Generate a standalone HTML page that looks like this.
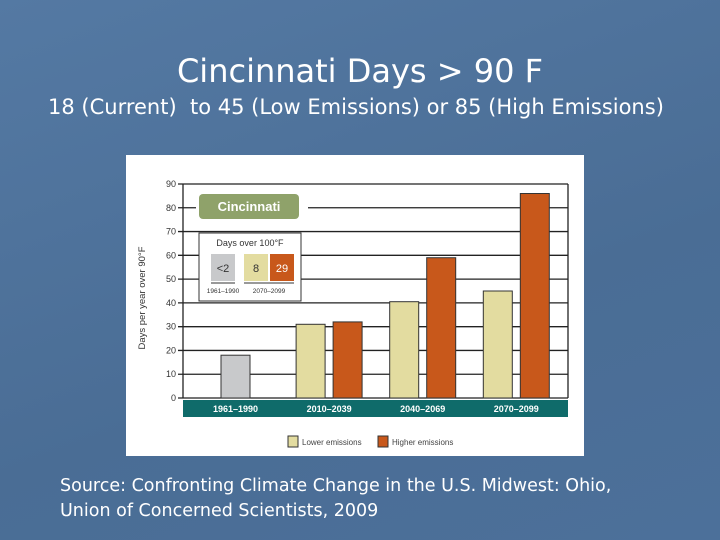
<!DOCTYPE html>
<html><head><meta charset="utf-8"><style>
body{margin:0;width:720px;height:540px;overflow:hidden;background:linear-gradient(160deg,#5479a3,#4a6d95 60%,#4c709a);font-family:"DejaVu Sans","Liberation Sans",sans-serif;position:relative}
.t{position:absolute;color:#fff;white-space:nowrap}
</style></head><body>
<div class="t" style="left:0;width:720px;text-align:center;top:52px;font-size:32px">Cincinnati Days &gt; 90 F</div>
<div class="t" style="left:48px;top:95px;font-size:21px">18 (Current)&nbsp; to 45 (Low Emissions) or 85 (High Emissions)</div>
<div class="t" style="left:60px;top:474px;font-size:17.5px;line-height:25px">Source: Confronting Climate Change in the U.S. Midwest: Ohio,<br>Union of Concerned Scientists, 2009</div>
<svg id="c" width="720" height="540" style="position:absolute;left:0;top:0" font-family="Liberation Sans, sans-serif"></svg>
<script>
const periods=["1961–1990","2010–2039","2040–2069","2070–2099"];
const lowerVals=[18,31,40.5,45];
const higherVals=[null,32,59,86];
const yTicks=[0,10,20,30,40,50,60,70,80,90];
const NS="http://www.w3.org/2000/svg",svg=document.getElementById('c');
function mk(t,a,txt){const e=document.createElementNS(NS,t);for(const k in a)e.setAttribute(k,a[k]);if(txt!=null)e.textContent=txt;svg.appendChild(e);return e;}
const x0=183,x1=568,y0=398,yTop=184;
const y=v=>y0-(v/90)*(y0-yTop);
const gx=i=>235.5+i*93.6;
let e=mk('rect',{x:126,y:155,width:458,height:301,fill:'#fff'});

yTicks.forEach(v=>{
 e=mk('line',{x1:x0-5,x2:x1,y1:y(v),y2:y(v),stroke:'#222','stroke-width':1.3});
 
 e=mk('text',{x:x0-7,y:y(v)+3,'font-size':9,'text-anchor':'end',fill:'#333'},v);
 
});
e=mk('line',{x1:x0,x2:x0,y1:yTop,y2:y0,stroke:'#222','stroke-width':1.3});

e=mk('line',{x1:x1,x2:x1,y1:yTop,y2:y0,stroke:'#222','stroke-width':1.3});

e=mk('text',{x:0,y:0,'font-size':9.5,'text-anchor':'middle',fill:'#333',transform:'translate(145,298) rotate(-90)'},'Days per year over 90°F');

e=mk('rect',{x:x0,y:400,width:x1-x0,height:17,fill:'#0f6b6a'});

periods.forEach((p,i)=>{
 const cx=gx(i);
 e=mk('text',{x:cx,y:412,'font-size':9,'font-weight':'bold','text-anchor':'middle',fill:'#fff'},p);
 
 const bw=29;
 if(higherVals[i]==null){
  e=mk('rect',{x:cx-bw/2,y:y(lowerVals[i]),width:bw,height:y0-y(lowerVals[i]),fill:'#c8c9cb',stroke:'#333','stroke-width':1});
  
 }else{
  e=mk('rect',{x:cx-bw-4,y:y(lowerVals[i]),width:bw,height:y0-y(lowerVals[i]),fill:'#e3dca0',stroke:'#333','stroke-width':1});
  
  e=mk('rect',{x:cx+4,y:y(higherVals[i]),width:bw,height:y0-y(higherVals[i]),fill:'#c8581b',stroke:'#333','stroke-width':1});
  
 }
});
e=mk('rect',{x:196,y:192,width:112,height:28,fill:'#fff'});
e=mk('rect',{x:199,y:194,width:100,height:25,rx:4,fill:'#8fa26a'});

e=mk('text',{x:249,y:211,'font-size':13,'font-weight':'bold','text-anchor':'middle',fill:'#fff'},'Cincinnati');

e=mk('rect',{x:199,y:233,width:102,height:68,fill:'#fff',stroke:'#333','stroke-width':1});

e=mk('text',{x:250,y:246,'font-size':9,'text-anchor':'middle',fill:'#333'},'Days over 100°F');

[[211,'#c8c9cb','<2','#333'],[244,'#e3dca0','8','#333'],[270,'#c8581b','29','#fff']].forEach(s=>{
 e=mk('rect',{x:s[0],y:254,width:24,height:27,fill:s[1]});
 
 e=mk('text',{x:s[0]+12,y:272,'font-size':11,'text-anchor':'middle',fill:s[3]},s[2]);
 
});
mk('line',{x1:211,x2:235,y1:283,y2:283,stroke:'#333'});
mk('line',{x1:244,x2:294,y1:283,y2:283,stroke:'#333'});
e=mk('text',{x:223,y:293,'font-size':6.5,'text-anchor':'middle',fill:'#333'},'1961–1990');

e=mk('text',{x:269,y:293,'font-size':6.5,'text-anchor':'middle',fill:'#333'},'2070–2099');

e=mk('rect',{x:288,y:436,width:10,height:11,fill:'#e3dca0',stroke:'#333'});

e=mk('text',{x:302,y:445,'font-size':8,fill:'#444'},'Lower emissions');

e=mk('rect',{x:378,y:436,width:10,height:11,fill:'#c8581b',stroke:'#333'});

e=mk('text',{x:392,y:445,'font-size':8,fill:'#444'},'Higher emissions');

</script>
</body></html>
